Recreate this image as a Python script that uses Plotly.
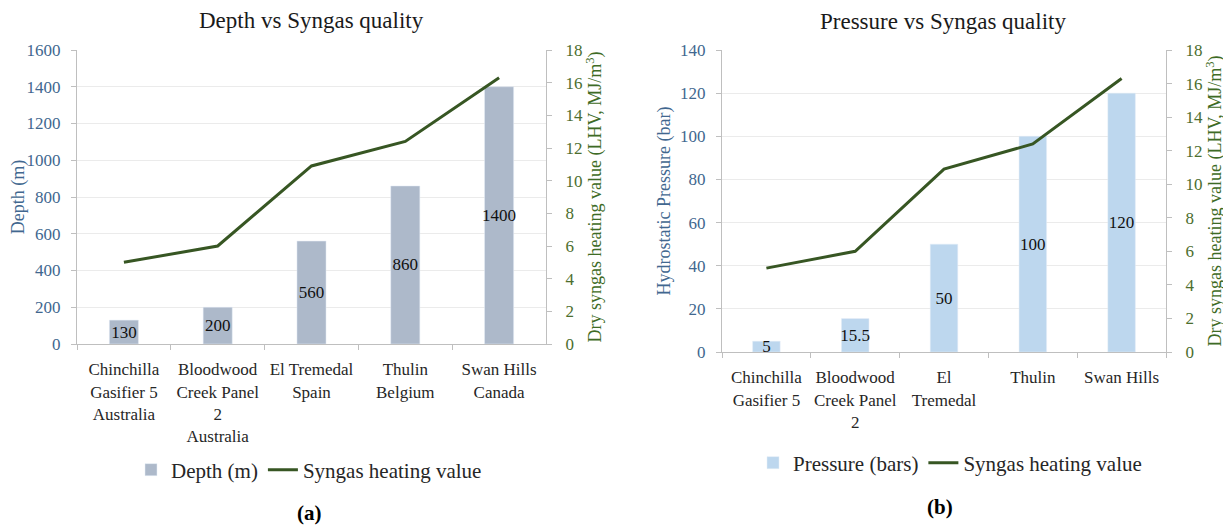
import plotly.graph_objects as go

# ---------------- data ----------------
sites_a = ["Chinchilla<br>Gasifier 5<br>Australia", "Bloodwood<br>Creek Panel<br>2<br>Australia",
           "El Tremedal<br>Spain", "Thulin<br>Belgium", "Swan Hills<br>Canada"]
sites_b = ["Chinchilla<br>Gasifier 5", "Bloodwood<br>Creek Panel<br>2", "El<br>Tremedal",
           "Thulin", "Swan Hills"]
depth_m = [130, 200, 560, 860, 1400]
pressure_bar = [5, 15.5, 50, 100, 120]
pressure_labels = ["5", "15.5", "50", "100", "120"]
syngas_lhv = [5.0, 6.0, 10.9, 12.4, 16.3]

# ---------------- style ----------------
FONT = "Liberation Serif"
OFF = 8  # default page body margin
W, H = 1231 - OFF, 528 - OFF
BLUE_TXT = "#41678f"
GREEN_TXT = "#4c6e2e"
GREEN_TITLE = "#3e6b25"
LINE_C = "#375623"
AX_C = "#bfbfbf"
GRID_C = "#ebebeb"


def px_x(p):
    return (p - OFF) / W


def px_y(p):
    return 1 - (p - OFF) / H


fig = go.Figure()

fig.add_trace(go.Bar(x=sites_a, y=depth_m, name="Depth (m)", marker_color="#adb9ca",
                     width=0.31, text=[str(v) for v in depth_m], textposition="inside",
                     insidetextanchor="middle", textangle=0,
                     textfont=dict(family=FONT, size=17, color="#111"),
                     xaxis="x", yaxis="y", legend="legend"))
fig.add_trace(go.Scatter(x=sites_a, y=syngas_lhv, name="Syngas heating value", mode="lines",
                         line=dict(color=LINE_C, width=3), xaxis="x", yaxis="y2",
                         legend="legend"))
fig.add_trace(go.Bar(x=sites_b, y=pressure_bar, name="Pressure (bars)", marker_color="#bdd7ee",
                     width=0.31, text=pressure_labels, textposition="inside",
                     insidetextanchor="middle", textangle=0,
                     textfont=dict(family=FONT, size=17, color="#111"),
                     xaxis="x2", yaxis="y3", legend="legend2"))
fig.add_trace(go.Scatter(x=sites_b, y=syngas_lhv, name="Syngas heating value", mode="lines",
                         line=dict(color=LINE_C, width=3), xaxis="x2", yaxis="y4",
                         legend="legend2"))

xcommon = dict(type="category", showline=True, linecolor=AX_C, linewidth=1, ticks="outside",
               tickson="boundaries", ticklen=5, tickcolor=AX_C, showgrid=False, tickangle=0,
               automargin=False,
               tickfont=dict(family=FONT, size=17, color="#262626"), ticklabelstandoff=10,
               fixedrange=True)
yleft = dict(showline=True, linecolor=AX_C, ticks="outside", ticklen=5, tickcolor=AX_C,
             showgrid=True, gridcolor=GRID_C, zeroline=False, automargin=False,
             tickfont=dict(family=FONT, size=17, color=BLUE_TXT), ticklabelstandoff=7)
yright = dict(showline=True, linecolor=AX_C, ticks="outside", ticklen=5, tickcolor=AX_C,
              showgrid=False, zeroline=False, side="right", range=[0, 18], dtick=2,
              automargin=False,
              tickfont=dict(family=FONT, size=17, color=GREEN_TXT), ticklabelstandoff=10)

dom_xa = [px_x(77), px_x(546)]
dom_xb = [px_x(722), px_x(1166)]
dom_ya = [px_y(344), px_y(50)]
dom_yb = [px_y(352), px_y(50)]

fig.update_layout(
    width=W, height=H, margin=dict(l=0, r=0, t=0, b=0, autoexpand=False),
    paper_bgcolor="white", plot_bgcolor="white",
    font=dict(family=FONT, color="#262626"),
    uniformtext=dict(minsize=16, mode="show"),
    xaxis=dict(domain=dom_xa, anchor="y", **xcommon),
    yaxis=dict(domain=dom_ya, anchor="x", range=[0, 1600], dtick=200,
               title=dict(text="Depth (m)", font=dict(family=FONT, size=18, color=BLUE_TXT),
                          standoff=4), **yleft),
    yaxis2=dict(overlaying="y", anchor="x",
                title=dict(text="Dry syngas heating value (LHV, MJ/m<sup>3</sup>)",
                           font=dict(family=FONT, size=18, color=GREEN_TITLE), standoff=6),
                **yright),
    xaxis2=dict(domain=dom_xb, anchor="y3", **xcommon),
    yaxis3=dict(domain=dom_yb, anchor="x2", range=[0, 140], dtick=20,
                title=dict(text="Hydrostatic Pressure (bar)",
                           font=dict(family=FONT, size=18, color=BLUE_TXT), standoff=4),
                **yleft),
    yaxis4=dict(overlaying="y3", anchor="x2",
                title=dict(text="Dry syngas heating value (LHV, MJ/m<sup>3</sup>)",
                           font=dict(family=FONT, size=18, color=GREEN_TITLE), standoff=6),
                **yright),
    legend=dict(orientation="h", x=px_x(309), xanchor="center", y=px_y(470), yanchor="middle",
                font=dict(family=FONT, size=21, color="#262626"), bgcolor="rgba(0,0,0,0)",
                traceorder="normal", itemwidth=30),
    legend2=dict(orientation="h", x=px_x(950), xanchor="center", y=px_y(463), yanchor="middle",
                 font=dict(family=FONT, size=21, color="#262626"), bgcolor="rgba(0,0,0,0)",
                 traceorder="normal", itemwidth=30),
    bargap=0.69,
    annotations=[
        dict(text="Depth vs Syngas quality", x=px_x(311), y=px_y(20), xref="paper", yref="paper",
             showarrow=False, xanchor="center", yanchor="middle",
             font=dict(family=FONT, size=23, color="#1a1a1a")),
        dict(text="Pressure vs Syngas quality", x=px_x(943), y=px_y(21), xref="paper",
             yref="paper", showarrow=False, xanchor="center", yanchor="middle",
             font=dict(family=FONT, size=23, color="#1a1a1a")),
        dict(text="<b>(a)</b>", x=px_x(309), y=px_y(513), xref="paper", yref="paper",
             showarrow=False, xanchor="center", yanchor="middle",
             font=dict(family=FONT, size=21, color="#000")),
        dict(text="<b>(b)</b>", x=px_x(940), y=px_y(507), xref="paper", yref="paper",
             showarrow=False, xanchor="center", yanchor="middle",
             font=dict(family=FONT, size=21, color="#000")),
    ],
)

fig.write_html("out.html")
